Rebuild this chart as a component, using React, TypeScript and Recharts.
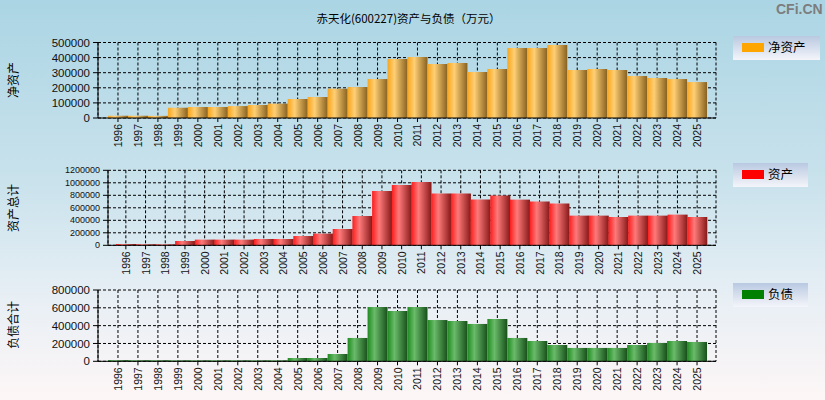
import React from 'react';
import { BarChart, Bar, XAxis, YAxis, CartesianGrid } from 'recharts';

const years = ['1996','1997','1998','1999','2000','2001','2002','2003','2004','2005','2006','2007','2008','2009','2010','2011','2012','2013','2014','2015','2016','2017','2018','2019','2020','2021','2022','2023','2024','2025'];
const netAssets = [15000,15000,14000,68000,73000,73000,79000,86000,95000,126000,139000,194000,205000,258000,391000,404000,358000,364000,305000,324000,464000,464000,483000,318000,324000,318000,278000,265000,258000,238000];
const totalAssets = [21000,17000,16000,69000,91000,91000,91000,101000,101000,149000,187000,261000,469000,869000,965000,1013000,827000,827000,731000,795000,731000,699000,667000,475000,475000,453000,475000,475000,491000,453000];
const liabilities = [13000,12000,12000,11000,11000,11000,11000,11000,11000,37000,37000,82000,262000,609000,564000,609000,463000,452000,419000,475000,262000,228000,183000,150000,150000,150000,183000,206000,228000,217000];

const netTicks = [0,100000,200000,300000,400000,500000];
const assetTicks = [0,200000,400000,600000,800000,1000000,1200000];
const liabTicks = [0,200000,400000,600000,800000];

const title = '赤天化(600227)资产与负债（万元）';

const data = years.map((y, i) => ({ year: y, net: netAssets[i], assets: totalAssets[i], liab: liabilities[i] }));

const FONT = '"Liberation Sans", Arial, "Noto Sans CJK SC", sans-serif';

const XTick = (props: any) => {
  const { x, y, payload } = props;
  return (
    <text x={x} y={y} transform={`rotate(-90, ${x}, ${y})`} textAnchor="end" dominantBaseline="central"
      fontSize={10.5} fontFamily={FONT} fill="#111">{payload.value}</text>
  );
};

type PanelProps = {
  dataKey: string;
  gradId: string;
  stops: string[];
  ticks: number[];
  max: number;
  top: number;
  bottom: number;
  yWidth: number;
  padLeft: number;
  padRight: number;
  tickFont: number;
};

const Panel = (p: PanelProps) => {
  const xAxisH = 30;
  return (
    <div style={{ position: 'absolute', left: 0, top: 0 }}>
      <BarChart width={825} height={400} data={data} barCategoryGap={0}
        margin={{ top: p.top, right: 109, bottom: 400 - p.bottom - xAxisH, left: 0 }}>
        <defs>
          <linearGradient id={p.gradId} x1="0" y1="0" x2="1" y2="0">
            <stop offset="0%" stopColor={p.stops[0]} />
            <stop offset="35%" stopColor={p.stops[1]} />
            <stop offset="100%" stopColor={p.stops[2]} />
          </linearGradient>
        </defs>
        <CartesianGrid yAxisId="l" stroke="#000" strokeDasharray="3 2" strokeOpacity={1} />
        <XAxis dataKey="year" height={xAxisH} interval={0} tickSize={4} tickMargin={2}
          padding={{ left: p.padLeft, right: p.padRight }}
          axisLine={{ stroke: '#000' }} tickLine={{ stroke: '#000' }} tick={<XTick />} />
        <YAxis yAxisId="l" width={p.yWidth} domain={[0, p.max]} ticks={p.ticks} interval={0}
          tickSize={5} tickMargin={3} axisLine={{ stroke: '#000' }} tickLine={{ stroke: '#000' }}
          tick={{ fontSize: p.tickFont, fill: '#111', fontFamily: FONT }} />
        <YAxis yAxisId="r" orientation="right" width={0} tick={false} domain={[0, p.max]}
          axisLine={{ stroke: '#000', strokeDasharray: '3 2' }} tickLine={false} />
        <Bar yAxisId="l" dataKey={p.dataKey} fill={`url(#${p.gradId})`} isAnimationActive={false} />
      </BarChart>
    </div>
  );
};

const LegendBox = ({ x, y, w, color, text }: { x: number; y: number; w: number; color: string; text: string }) => (
  <div style={{
    position: 'absolute', left: x, top: y, width: w, height: 24,
    background: 'linear-gradient(to bottom, #b9c9e1, #f4f5fa)',
  }}>
    <div style={{ position: 'absolute', left: 9, top: 7, width: 22, height: 9, background: color }} />
    <div style={{ position: 'absolute', left: 35, top: 3, fontSize: 12.5, lineHeight: '16px', fontFamily: '"Noto Sans CJK SC", sans-serif', color: '#000', whiteSpace: 'nowrap' }}>{text}</div>
  </div>
);

const AxisTitle = ({ cy, text }: { cy: number; text: string }) => (
  <div style={{
    position: 'absolute', left: 13, top: cy, width: 0, height: 0,
  }}>
    <div style={{
      position: 'absolute', left: 0, top: 0, transform: 'translate(-50%, -50%) rotate(-90deg)',
      fontSize: 12, fontFamily: '"Noto Sans CJK SC", sans-serif', color: '#000', whiteSpace: 'nowrap', lineHeight: '14px',
    }}>{text}</div>
  </div>
);

export default function App() {
  return (
    <div style={{
      position: 'fixed', left: 0, top: 0, width: 825, height: 400, overflow: 'hidden',
      background: 'linear-gradient(to bottom, #abd5e4 0%, #c9e2ec 45%, #e8eff5 75%, #fdf6f6 100%)',
    }}>
      <div style={{ position: 'absolute', left: 0, width: 825, top: 10, textAlign: 'center', paddingLeft: 0,
        fontSize: 11.5, fontFamily: '"Noto Sans CJK SC", sans-serif', color: '#000' }}>
        <span style={{ position: 'relative', left: -4 }}>{title}</span>
      </div>
      <div style={{ position: 'absolute', left: 776, top: 1, fontSize: 14, fontWeight: 'bold', fontFamily: FONT, color: '#7d7d7d', whiteSpace: 'nowrap' }}>CFi.CN</div>

      <Panel dataKey="net" gradId="gOrange" stops={['#f7a51e', '#ffcf74', '#876120']} ticks={netTicks} max={500000}
        top={42.5} bottom={118} yWidth={98} padLeft={10} padRight={9} tickFont={11.5} />
      <Panel dataKey="assets" gradId="gRed" stops={['#ff1c1c', '#ff7a7a', '#861818']} ticks={assetTicks} max={1200000}
        top={170.3} bottom={245.3} yWidth={108} padLeft={8} padRight={9} tickFont={9} />
      <Panel dataKey="liab" gradId="gGreen" stops={['#1f8a1f', '#6abb6a', '#17501a']} ticks={liabTicks} max={800000}
        top={290} bottom={361.3} yWidth={98} padLeft={10} padRight={9} tickFont={11.5} />

      <AxisTitle cy={80} text="净资产" />
      <AxisTitle cy={208} text="资产总计" />
      <AxisTitle cy={325} text="负债合计" />

      <LegendBox x={733} y={36} w={87} color="#ffa500" text="净资产" />
      <LegendBox x={733} y={163} w={75} color="#ff0000" text="资产" />
      <LegendBox x={733} y={283} w={75} color="#008000" text="负债" />
    </div>
  );
}
